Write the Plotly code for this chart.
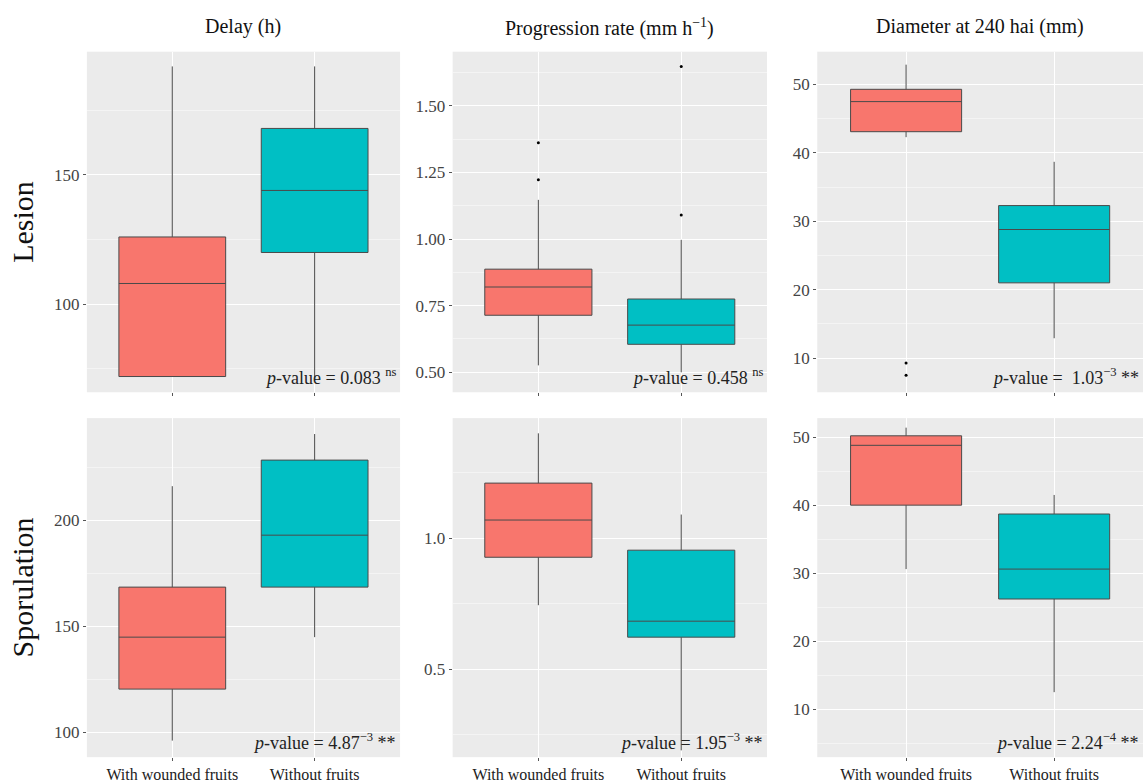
import plotly.graph_objects as go

# ----------------------------
# Data
# ----------------------------
groups = ["With wounded fruits", "Without fruits"]
colors = ["#F8766D", "#00BFC4"]

# quartile summaries per panel: [red, cyan]
delay_lesion = dict(lo=[72, 71.5], q1=[72, 120], med=[108, 144], q3=[126, 168], hi=[192, 192])
prog_lesion = dict(lo=[0.526, 0.50], q1=[0.714, 0.605], med=[0.82, 0.677], q3=[0.887, 0.775], hi=[1.147, 0.997])
diam_lesion = dict(lo=[42.3, 12.9], q1=[43.1, 21.0], med=[47.5, 28.8], q3=[49.3, 32.3], hi=[52.9, 38.7])
delay_spor = dict(lo=[96, 144.8], q1=[120.3, 168.4], med=[144.8, 192.9], q3=[168.4, 228.3], hi=[216, 240.6])
prog_spor = dict(lo=[0.744, 0.19], q1=[0.927, 0.622], med=[1.069, 0.683], q3=[1.21, 0.954], hi=[1.40, 1.09])
diam_spor = dict(lo=[30.6, 12.5], q1=[40.0, 26.2], med=[48.8, 30.6], q3=[50.2, 38.7], hi=[51.4, 41.5])

# outliers: (group index, value)
prog_lesion_out = [(0, 1.222), (0, 1.361), (1, 1.09), (1, 1.647)]
diam_lesion_out = [(0, 9.3), (0, 7.5)]

y_ranges = [[65.9, 197.7], [0.425, 1.703], [5.0, 54.8],
            [88.2, 248.1], [0.164, 1.458], [2.94, 52.8]]
y_ticks = [[100, 150], [0.5, 0.75, 1.0, 1.25, 1.5], [10, 20, 30, 40, 50],
           [100, 150, 200], [0.5, 1.0], [10, 20, 30, 40, 50]]
y_ticktext = [["100", "150"], ["0.50", "0.75", "1.00", "1.25", "1.50"], None,
              None, ["0.5", "1.0"], None]
y_minor = [25, 0.125, 5, 25, 0.25, 5]

p_texts = ["<i>p</i>-value = 0.083 <sup>ns</sup>",
           "<i>p</i>-value = 0.458 <sup>ns</sup>",
           "<i>p</i>-value =  1.03<sup>−3</sup> **",
           "<i>p</i>-value = 4.87<sup>−3</sup> **",
           "<i>p</i>-value = 1.95<sup>−3</sup> **",
           "<i>p</i>-value = 2.24<sup>−4</sup> **"]
col_titles = ["Delay (h)", "Progression rate (mm h<sup>−1</sup>)", "Diameter at 240 hai (mm)"]
row_titles = ["Lesion", "Sporulation"]

panels = [delay_lesion, prog_lesion, diam_lesion, delay_spor, prog_spor, diam_spor]
outliers = [[], prog_lesion_out, diam_lesion_out, [], [], []]

# ----------------------------
# Layout geometry
# ----------------------------
x_domains = [[0.076, 0.350], [0.396, 0.671], [0.715, 1.0]]
y_domains = [[0.499, 0.934], [0.033, 0.466]]
FONT = "Liberation Serif"

fig = go.Figure()
layout = dict(
    width=1143, height=783, margin=dict(l=0, r=0, t=0, b=0),
    paper_bgcolor="white", plot_bgcolor="#EBEBEB", showlegend=False,
    font=dict(family=FONT, color="#333"),
)
annotations = []

for i, d in enumerate(panels):
    r, c = divmod(i, 3)
    n = i + 1
    xa = "x" if n == 1 else f"x{n}"
    ya = "y" if n == 1 else f"y{n}"
    for g in range(2):
        fig.add_trace(go.Box(
            x=[groups[g]], q1=[d["q1"][g]], median=[d["med"][g]], q3=[d["q3"][g]],
            lowerfence=[d["lo"][g]], upperfence=[d["hi"][g]],
            width=0.75, fillcolor=colors[g], line=dict(color="#4a4a4a", width=1),
            whiskerwidth=0, boxpoints=False, xaxis=xa, yaxis=ya,
        ))
    if outliers[i]:
        fig.add_trace(go.Scatter(
            x=[groups[g] for g, _ in outliers[i]], y=[v for _, v in outliers[i]],
            mode="markers", marker=dict(color="black", size=3), xaxis=xa, yaxis=ya,
        ))
    layout[f"xaxis{n}" if n > 1 else "xaxis"] = dict(
        domain=x_domains[c], anchor=ya, type="category", range=[-0.6, 1.6],
        categoryorder="array", categoryarray=groups, automargin=False,
        showgrid=True, gridcolor="white", gridwidth=1.2, zeroline=False,
        ticks="outside", ticklen=3, tickcolor="#555",
        showticklabels=(r == 1), tickfont=dict(family=FONT, size=16, color="#222"),
    )
    layout[f"yaxis{n}" if n > 1 else "yaxis"] = dict(
        domain=y_domains[r], anchor=xa, range=y_ranges[i], automargin=False,
        tickvals=y_ticks[i], ticktext=y_ticktext[i],
        showgrid=True, gridcolor="white", gridwidth=1.2, zeroline=False,
        minor=dict(dtick=y_minor[i], showgrid=True, gridcolor="#f4f4f4", gridwidth=0.6),
        ticks="outside", ticklen=3, tickcolor="#555",
        tickfont=dict(family=FONT, size=17, color="#444"),
    )
    annotations.append(dict(
        text=p_texts[i], xref="paper", yref="paper",
        x=x_domains[c][1] - 0.002, y=y_domains[r][0] + 0.003,
        xanchor="right", yanchor="bottom", showarrow=False,
        font=dict(family=FONT, size=18, color="#222"),
    ))

for c, t in enumerate(col_titles):
    annotations.append(dict(
        text=t, xref="paper", yref="paper", x=sum(x_domains[c]) / 2, y=0.983,
        xanchor="center", yanchor="top", showarrow=False,
        font=dict(family=FONT, size=20, color="#111"),
    ))
for r, t in enumerate(row_titles):
    annotations.append(dict(
        text=t, xref="paper", yref="paper", x=0.02, y=sum(y_domains[r]) / 2,
        xanchor="center", yanchor="middle", textangle=-90, showarrow=False,
        font=dict(family=FONT, size=30, color="#111"),
    ))

layout["annotations"] = annotations
fig.update_layout(**layout)

# drop the default page margin so the figure sits at the window corner
fig.write_html("out.html", config={"displayModeBar": False},
               post_script="document.body.style.margin='0';")
